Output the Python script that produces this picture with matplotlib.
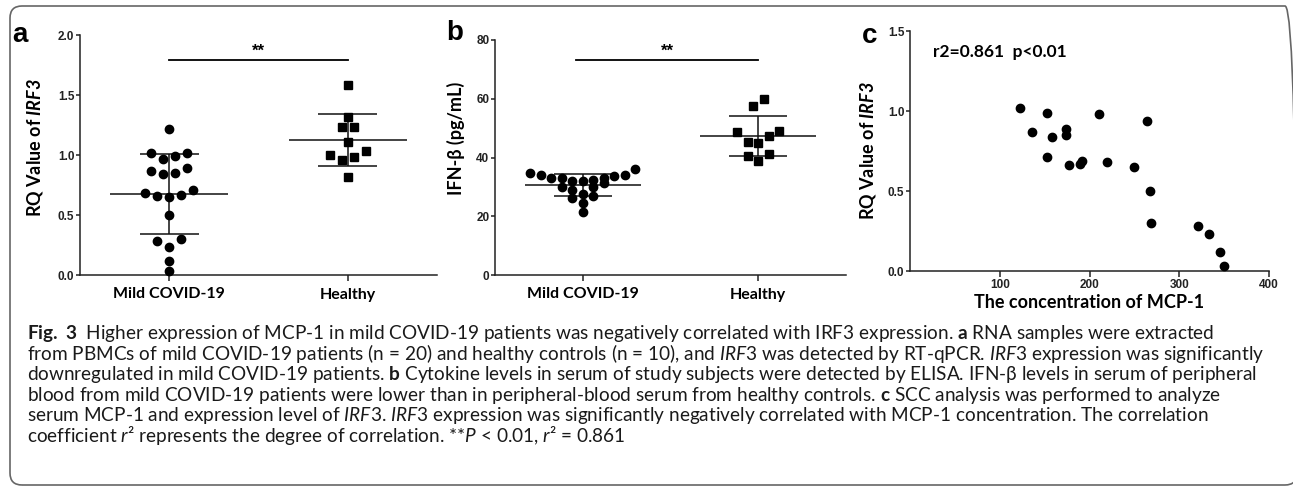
import numpy as np
import matplotlib
matplotlib.use('Agg')
import matplotlib.pyplot as plt
from matplotlib import font_manager
from matplotlib.ft2font import FT2Font
from matplotlib.patches import FancyBboxPatch

# data
groups = ['Mild COVID-19', 'Healthy']
irf3_mild = [1.22, 1.02, 1.02, 0.99, 0.97, 0.89, 0.87, 0.85, 0.84, 0.71,
             0.68, 0.67, 0.66, 0.65, 0.50, 0.30, 0.28, 0.23, 0.12, 0.03]
irf3_healthy = [1.58, 1.32, 1.23, 1.23, 1.11, 1.03, 1.00, 0.98, 0.96, 0.82]
ifnb_mild = [36.0, 34.8, 34.2, 33.9, 33.6, 33.1, 33.1, 33.1, 32.3, 31.9,
             31.9, 31.2, 29.9, 29.9, 28.9, 27.7, 26.8, 26.3, 24.5, 21.6]
ifnb_healthy = [59.8, 57.5, 48.9, 48.6, 47.3, 45.2, 44.8, 41.3, 40.6, 38.9]
mcp1_conc = [123, 136, 153, 153, 158, 174, 174, 177, 189, 192,
             211, 220, 250, 264, 267, 268, 321, 333, 345, 350]
mcp1_irf3 = [1.02, 0.87, 0.99, 0.71, 0.84, 0.89, 0.85, 0.66, 0.67, 0.69,
             0.98, 0.68, 0.65, 0.94, 0.50, 0.30, 0.28, 0.23, 0.12, 0.03]
r2_text = 'r2=0.861  p<0.01'

caption = [
    r"$\mathbf{Fig.\ 3}$  Higher expression of MCP-1 in mild COVID-19 patients was negatively correlated with IRF3 expression. $\mathbf{a}$ RNA samples were extracted",
    r"from PBMCs of mild COVID-19 patients (n = 20) and healthy controls (n = 10), and $\mathit{IRF3}$ was detected by RT-qPCR. $\mathit{IRF3}$ expression was significantly",
    r"downregulated in mild COVID-19 patients. $\mathbf{b}$ Cytokine levels in serum of study subjects were detected by ELISA. IFN-β levels in serum of peripheral",
    r"blood from mild COVID-19 patients were lower than in peripheral-blood serum from healthy controls. $\mathbf{c}$ SCC analysis was performed to analyze",
    r"serum MCP-1 and expression level of $\mathit{IRF3}$. $\mathit{IRF3}$ expression was significantly negatively correlated with MCP-1 concentration. The correlation",
    r"coefficient $\mathit{r}$² represents the degree of correlation. **$\mathit{P}$ < 0.01, $\mathit{r}$² = 0.861",
]


def has_glyph(family, ch):
    try:
        path = font_manager.findfont(family, fallback_to_default=False)
        return FT2Font(path).get_char_index(ord(ch)) != 0
    except Exception:
        return False


cap_name = 'Lato' if has_glyph('Lato', 'β') else 'Roboto'
chart_font = ['Lato', 'DejaVu Sans']
tick_font = ['Liberation Sans', 'DejaVu Sans']
cap_font = [cap_name, 'DejaVu Sans']

plt.rcParams['mathtext.fontset'] = 'custom'
plt.rcParams['mathtext.rm'] = cap_name
plt.rcParams['mathtext.it'] = cap_name + ':italic'
plt.rcParams['mathtext.bf'] = cap_name + ':bold'
plt.rcParams['mathtext.sf'] = 'Lato:bold:italic'

W, H = 1293, 487
fig = plt.figure(figsize=(W / 100, H / 100), dpi=100)


def box(l, t, r, b):
    return [l / W, 1 - b / H, (r - l) / W, (b - t) / H]


def row_offsets(vals, width, step):
    # Prism-like layout: near-equal values share a row, lowest in the middle
    vals = np.asarray(vals, float)
    order = np.argsort(-vals, kind='stable')
    offs = np.zeros(len(vals))
    i = 0
    while i < len(order):
        j = i
        while j + 1 < len(order) and vals[order[i]] - vals[order[j + 1]] < width:
            j += 1
        grp = order[i:j + 1]
        grp = grp[np.argsort(vals[grp], kind='stable')]
        n = len(grp)
        slots = (np.arange(n) - (n - 1) / 2) * step
        slots = slots[np.argsort(np.abs(slots) + 1e-6 * slots, kind='stable')]
        offs[grp] = slots
        i = j + 1
    return offs


def style(ax):
    for s in ['top', 'right']:
        ax.spines[s].set_visible(False)
    for s in ['left', 'bottom']:
        ax.spines[s].set_linewidth(1.1)
        ax.spines[s].set_color('#222222')
    ax.tick_params(axis='y', length=3, width=1.1, pad=1, color='#222222')
    ax.tick_params(axis='x', length=4, width=1.1, pad=5, color='#222222')
    for lab in ax.get_yticklabels():
        lab.set_family(tick_font)
        lab.set_fontweight('bold')
        lab.set_fontsize(8.5)
        lab.set_color('#222222')


def dot_plot(ax, data, markers, width, step):
    for i, (vals, m) in enumerate(zip(data, markers)):
        v = np.asarray(vals, float)
        x = i + row_offsets(v, width, step)
        ax.plot(x, v, ls='none', marker=m, ms=6.0 if m == 'o' else 5.6,
                color='black', clip_on=False, zorder=3)
        mu, sd = v.mean(), v.std(ddof=1)
        ax.hlines(mu, i - 0.33, i + 0.33, color='#111111', lw=1.1, zorder=2)
        ax.hlines([mu - sd, mu + sd], i - 0.165, i + 0.165, color='#111111', lw=1.1, zorder=2)
        ax.vlines(i, mu - sd, mu + sd, color='#111111', lw=1.1, zorder=2)
    ax.set_xlim(-0.5, 1.5)
    ax.set_xticks(range(len(groups)))
    ax.set_xticklabels(groups, family=chart_font, fontweight='bold', fontsize=11.5)


def sig_bar(ax, x0, x1, y):
    ax.plot([x0, x1], [y, y], color='black', lw=1.3, clip_on=False)
    ax.annotate('**', xy=((x0 + x1) / 2, y), xytext=(0, 1), textcoords='offset points',
                ha='center', va='bottom', family=tick_font, fontweight='bold', fontsize=12)


# panel a
ax_a = fig.add_axes(box(80, 35, 437, 275))
dot_plot(ax_a, [irf3_mild, irf3_healthy], ['o', 's'], 0.075, 0.067)
ax_a.set_ylim(0, 2.0)
ax_a.set_yticks([0, 0.5, 1.0, 1.5, 2.0])
ax_a.set_yticklabels(['0.0', '0.5', '1.0', '1.5', '2.0'])
sig_bar(ax_a, 0, 1, 1.79)
ax_a.set_ylabel(r'RQ Value of $\mathsf{IRF3}$', family=chart_font, fontweight='bold', fontsize=13)
ax_a.yaxis.set_label_coords(-0.098, 0.53)
style(ax_a)

# panel b
ax_b = fig.add_axes(box(495, 40, 846, 275))
dot_plot(ax_b, [ifnb_mild, ifnb_healthy], ['o', 's'], 4.2, 0.06)
ax_b.set_ylim(0, 80)
ax_b.set_yticks([0, 20, 40, 60, 80])
sig_bar(ax_b, -0.04, 1, 73.2)
ax_b.set_ylabel('IFN-β (pg/mL)', family=chart_font, fontweight='bold', fontsize=13)
ax_b.yaxis.set_label_coords(-0.085, 0.58)
style(ax_b)

# panel c
ax_c = fig.add_axes(box(910, 31, 1269, 271))
ax_c.plot(mcp1_conc, mcp1_irf3, ls='none', marker='o', ms=6.0, color='black',
          clip_on=False, zorder=3)
ax_c.set_xlim(0, 400)
ax_c.set_ylim(0, 1.5)
ax_c.set_xticks([100, 200, 300, 400])
ax_c.set_yticks([0, 0.5, 1.0, 1.5])
ax_c.set_yticklabels(['0.0', '0.5', '1.0', '1.5'])
ax_c.set_xlabel('The concentration of MCP-1', family=chart_font, fontweight='bold',
                fontsize=13, labelpad=2)
ax_c.set_ylabel(r'RQ Value of $\mathsf{IRF3}$', family=chart_font, fontweight='bold', fontsize=13)
ax_c.yaxis.set_label_coords(-0.089, 0.50)
ax_c.text(25.6, 1.37, r2_text, family=chart_font, fontweight='bold', fontsize=12.5,
          ha='left', va='center')
style(ax_c)
for lab in ax_c.get_xticklabels():
    lab.set_family(tick_font)
    lab.set_fontweight('bold')
    lab.set_fontsize(8.5)
    lab.set_color('#222222')
ax_c.tick_params(axis='x', pad=2)

# panel letters
for letter, (px, py) in zip('abc', [(20, 35), (455, 33), (870, 36)]):
    fig.text(px / W, 1 - py / H, letter, family=tick_font, fontweight='bold',
             fontsize=20, ha='center', va='center')

# rounded frame
frame = FancyBboxPatch((0.10, 0.02), 12.87, 4.79, boxstyle='round,pad=0,rounding_size=0.12',
                       transform=fig.dpi_scale_trans, fill=False, edgecolor='#666666', lw=1.2)
fig.add_artist(frame)

# caption, sized so the third line spans the measured width
cap_texts = []
for k, line in enumerate(caption):
    cap_texts.append(fig.text(27 / W, 1 - (339 + k * 20.6) / H, line, family=cap_font,
                              fontsize=14, ha='left', va='baseline', color='#1a1a1a'))
fig.canvas.draw()
rend = fig.canvas.get_renderer()
w3 = cap_texts[2].get_window_extent(rend).width
size = 14 * 1236 / w3
for t in cap_texts:
    t.set_fontsize(size)

fig.savefig('out.png', dpi=100)
